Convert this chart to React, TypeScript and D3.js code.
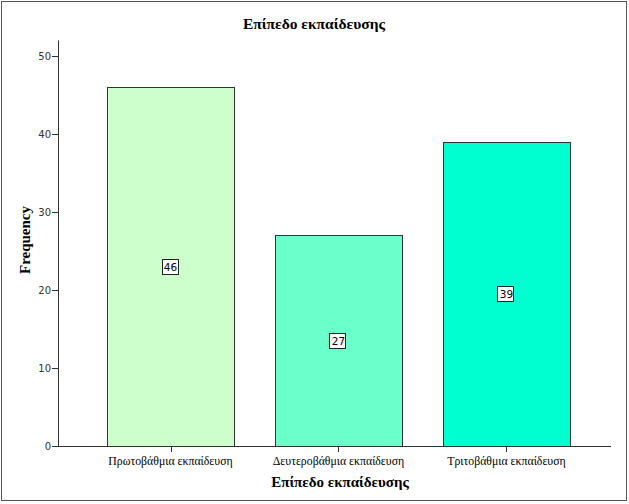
import React from "react";
import * as d3 from "d3";

const categories = ["Πρωτοβάθμια εκπαίδευση", "Δευτεροβάθμια εκπαίδευση", "Τριτοβάθμια εκπαίδευση"];
const values = [46, 27, 39];
const colors = ["#ccffcc", "#6bffcc", "#00ffd0"];
const yTicks = [0, 10, 20, 30, 40, 50];
const title = "Επίπεδο εκπαίδευσης";
const xTitle = "Επίπεδο εκπαίδευσης";
const yTitle = "Frequency";

export default function App() {
  const W = 629, H = 504;
  const x0 = 58, x1 = 611, yBase = 446;
  const y = d3.scaleLinear().domain([0, 50]).range([yBase, 56]);
  const x = d3.scaleBand().domain(categories).range([x0, 619]).paddingInner(0.244).paddingOuter(0.2917);
  const yTop = y(52);
  return (
    <svg width={W} height={H} style={{ position: "absolute", left: 0, top: 0 }}>
      <rect x={0} y={0} width={W} height={H} fill="#fff" />
      <rect x={1.5} y={1.5} width={625} height={499} fill="none" stroke="#555" strokeWidth={1} />
      <text x={314} y={29} textAnchor="middle" fontFamily="Liberation Serif" fontWeight="bold" fontSize={15.5}>{title}</text>
      {categories.map((c, i) => {
        const bx = x(c)!;
        const top = y(values[i]);
        const cx = bx + x.bandwidth() / 2;
        const my = y(values[i] / 2);
        return (
          <g key={c}>
            <rect x={Math.round(bx) + 0.5} y={Math.round(top) + 0.5} width={Math.round(x.bandwidth())} height={yBase - Math.round(top)} fill={colors[i]} stroke="#333" strokeWidth={1} />
            <rect x={Math.round(cx) - 8.5} y={Math.round(my) - 7.5} width={16} height={15} fill="#fff" stroke="#222" strokeWidth={1} />
            <text x={cx} y={my + 4} textAnchor="middle" fontFamily="DejaVu Sans" fontSize={10.5} fill="#000">{values[i]}</text>
            <line x1={Math.round(cx) + 0.5} x2={Math.round(cx) + 0.5} y1={yBase} y2={yBase + 6} stroke="#333" />
            <text x={cx} y={465} textAnchor="middle" fontFamily="Liberation Serif" fontSize={11.8} fill="#000">{c}</text>
          </g>
        );
      })}
      <line x1={x0 + 0.5} x2={x0 + 0.5} y1={yTop} y2={yBase + 0.5} stroke="#333" />
      <line x1={x0} x2={x1} y1={yBase + 0.5} y2={yBase + 0.5} stroke="#333" />
      {yTicks.map(t => (
        <g key={t}>
          <line x1={x0 - 6} x2={x0} y1={Math.round(y(t)) + 0.5} y2={Math.round(y(t)) + 0.5} stroke="#333" />
          <text x={x0 - 7} y={y(t) + 4} textAnchor="end" fontFamily="DejaVu Sans" fontSize={10} fill="#333">{t}</text>
        </g>
      ))}
      <text transform={`translate(30,${240}) rotate(-90)`} textAnchor="middle" fontFamily="Liberation Serif" fontWeight="bold" fontSize={15}>{yTitle}</text>
      <text x={340} y={487} textAnchor="middle" fontFamily="Liberation Serif" fontWeight="bold" fontSize={15}>{xTitle}</text>
    </svg>
  );
}
